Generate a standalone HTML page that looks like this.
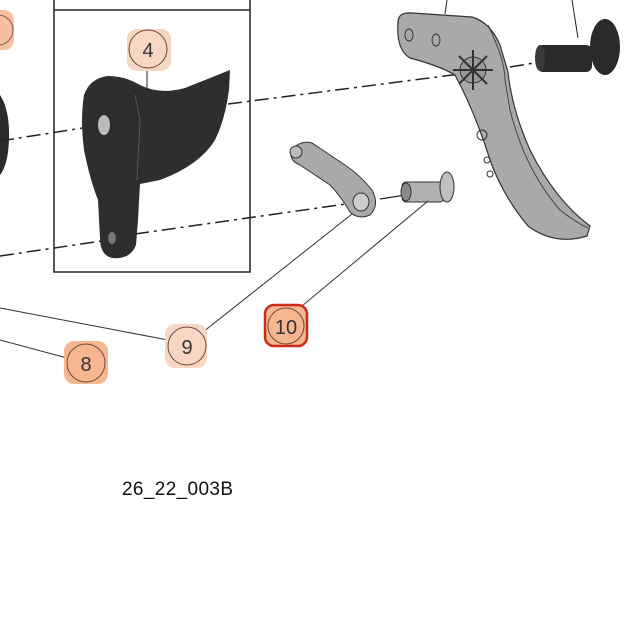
<!DOCTYPE html>
<html><head><style>
html,body{margin:0;padding:0;background:#fff;}
svg{display:block;font-family:"Liberation Sans",sans-serif;}
</style></head><body>
<svg width="642" height="642" viewBox="0 0 642 642" xmlns="http://www.w3.org/2000/svg">
<rect width="642" height="642" fill="#fff"/>
<rect x="54" y="-2" width="196" height="274" fill="none" stroke="#222" stroke-width="1.5"/>
<line x1="54" y1="10" x2="250" y2="10" stroke="#222" stroke-width="1.5"/>
<rect x="-20" y="10" width="34" height="40" rx="10" fill="#f6c0a0"/>
<circle cx="-2" cy="30" r="15" fill="none" stroke="#8a5a40" stroke-width="1"/>
<path d="M0,95 Q10,110 9,140 Q8,165 0,175 Z" fill="#2b2b2b"/>
<g stroke="#222" stroke-width="1.5" stroke-dasharray="14,5,3,5" fill="none">
<line x1="0" y1="141" x2="108" y2="124"/>
<line x1="228" y1="104" x2="460" y2="74"/>
<line x1="510" y1="67" x2="540" y2="62"/>
<line x1="0" y1="256" x2="115" y2="239"/>
<line x1="135" y1="234" x2="360" y2="202"/>
</g>
<line x1="380" y1="199" x2="405" y2="195" stroke="#222" stroke-width="1.2"/>
<path d="M84,95 Q90,78 108,76 Q125,76 140,85 Q160,95 185,88 Q205,80 230,70 L229,90 Q225,120 215,140 Q200,165 160,180 L140,184 L138,220 L136,245 Q130,260 112,258 Q100,255 100,238 L98,200 Q90,180 84,150 Q80,120 84,95 Z" fill="#2e2e2e"/>
<path d="M135,95 L140,120 L137,180" stroke="#555" fill="none"/>
<ellipse cx="104" cy="125" rx="6" ry="10" fill="#bbb"/>
<ellipse cx="112" cy="238" rx="4" ry="6" fill="#777"/>
<line x1="147" y1="69" x2="147" y2="95" stroke="#222"/>
<rect x="127" y="29" width="44" height="42" rx="10" fill="#f9d6c4"/>
<circle cx="148" cy="49" r="19" fill="none" stroke="#6b4a3a" stroke-width="1"/>
<text x="148" y="57" font-size="20" text-anchor="middle" fill="#333">4</text>
<path d="M398,22 Q398,12 412,13 L472,17 Q490,22 500,45 L508,72 Q512,110 530,150 Q555,200 590,226 L587,236 Q555,246 528,226 Q503,196 490,160 Q475,112 455,75 Q440,66 410,58 Q396,50 398,22 Z" fill="#a9a9a9" stroke="#333" stroke-width="1.2"/>
<path d="M488,25 Q505,60 505,80 L510,110 Q525,170 560,210 Q575,222 588,228" stroke="#444" fill="none"/>
<ellipse cx="409" cy="35" rx="4" ry="6" fill="none" stroke="#333"/>
<ellipse cx="436" cy="40" rx="4" ry="6" fill="none" stroke="#333"/>
<circle cx="473" cy="70" r="13" fill="#999" stroke="#333"/>
<g stroke="#333" stroke-width="2"><line x1="473" y1="50" x2="473" y2="90"/><line x1="453" y1="70" x2="493" y2="70"/><line x1="459" y1="56" x2="487" y2="84"/><line x1="487" y1="56" x2="459" y2="84"/></g>
<circle cx="482" cy="135" r="5" fill="none" stroke="#333"/>
<circle cx="487" cy="160" r="3" fill="none" stroke="#333"/>
<circle cx="490" cy="174" r="3" fill="none" stroke="#333"/>
<line x1="447" y1="0" x2="445" y2="14" stroke="#222"/>
<line x1="572" y1="0" x2="578" y2="38" stroke="#222"/>
<rect x="537" y="45" width="55" height="27" rx="6" fill="#2a2a2a"/>
<ellipse cx="540" cy="58" rx="5" ry="13" fill="#3a3a3a"/>
<ellipse cx="605" cy="47" rx="15" ry="28" fill="#2a2a2a"/>
<path d="M292,150 Q300,140 312,143 L345,165 Q360,175 372,190 Q380,205 370,215 Q358,220 350,212 Q340,195 330,185 L300,165 Q288,160 292,150 Z" fill="#a9a9a9" stroke="#333"/>
<circle cx="296" cy="152" r="6" fill="#bbb" stroke="#333"/>
<ellipse cx="361" cy="202" rx="8" ry="9" fill="#ccc" stroke="#333"/>
<rect x="402" y="182" width="42" height="20" rx="4" fill="#b0b0b0" stroke="#333"/>
<ellipse cx="406" cy="192" rx="5" ry="9" fill="#888" stroke="#333"/>
<ellipse cx="447" cy="187" rx="7" ry="15" fill="#c0c0c0" stroke="#333"/>
<g stroke="#333" stroke-width="1" fill="none">
<line x1="0" y1="308" x2="168" y2="340"/>
<line x1="203" y1="332" x2="352" y2="214"/>
<line x1="0" y1="340" x2="67" y2="358"/>
<line x1="302" y1="306" x2="428" y2="201"/>
</g>
<rect x="165" y="324" width="42" height="44" rx="10" fill="#f9d6c4"/>
<circle cx="187" cy="346" r="19" fill="none" stroke="#6b4a3a"/>
<text x="187" y="354" font-size="20" text-anchor="middle" fill="#333">9</text>
<rect x="64" y="341" width="44" height="43" rx="10" fill="#f6b690"/>
<circle cx="86" cy="363" r="19" fill="none" stroke="#6b4a3a"/>
<text x="86" y="371" font-size="20" text-anchor="middle" fill="#333">8</text>
<rect x="265" y="305" width="42" height="41" rx="9" fill="#f6b690" stroke="#cc2a1a" stroke-width="2.5"/>
<circle cx="286" cy="326" r="18" fill="none" stroke="#6b4a3a"/>
<text x="286" y="334" font-size="20" text-anchor="middle" fill="#333">10</text>
<text x="122" y="495" font-size="19" fill="#111" textLength="111">26_22_003B</text>
</svg>
</body></html>
